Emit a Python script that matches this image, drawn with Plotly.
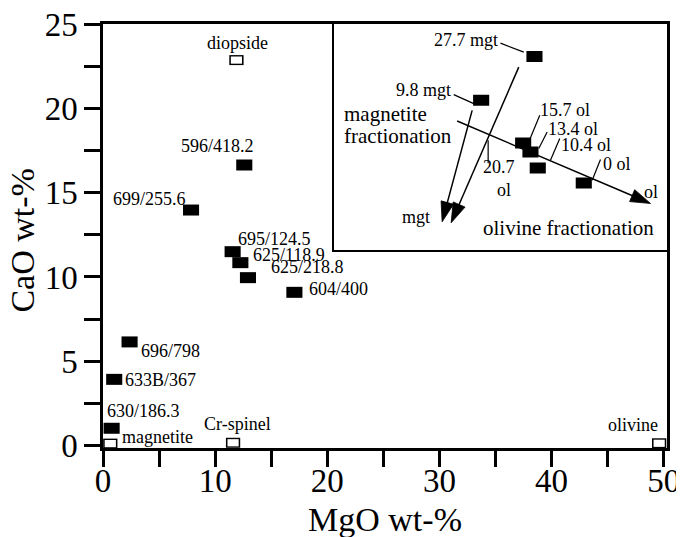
import plotly.graph_objects as go

# ---------------- data (main diagram) ----------------
sample_labels = ["596/418.2", "699/255.6", "695/124.5", "625/118.9", "625/218.8",
                 "604/400", "696/798", "633B/367", "630/186.3"]
sample_mgo = [12.6, 7.85, 11.56, 12.25, 12.93, 17.07, 2.37, 1.0, 0.77]
sample_cao = [16.64, 13.97, 11.5, 10.85, 9.96, 9.09, 6.15, 3.93, 1.03]

mineral_labels = ["diopside", "magnetite", "Cr-spinel", "olivine"]
mineral_mgo = [11.9, 0.65, 11.6, 49.6]
mineral_cao = [22.86, 0.12, 0.17, 0.14]

x_tick_vals = [0, 5, 10, 15, 20, 25, 30, 35, 40, 45, 50]
x_label_vals = [0, 10, 20, 30, 40, 50]
x_label_text = ["0", "10", "20", "30", "40", "50"]
y_tick_vals = [0, 2.5, 5, 7.5, 10, 12.5, 15, 17.5, 20, 22.5, 25]
y_tick_text = ["0", "", "5", "", "10", "", "15", "", "20", "", "25"]

# ---------------- data (inset schematic, inset units) ----------------
inset_labels = ["27.7 mgt", "9.8 mgt", "15.7 ol", "13.4 ol", "10.4 ol", "0 ol"]
inset_u = [200, 146.7, 188.7, 196, 203.3, 249.3]
inset_v = [194, 150, 107.3, 98.3, 82.3, 67.3]

leader_u = [166, 189.3, None, 119.3, 139.3, None, 205.3, 195.3, None,
            212.7, 204.3, None, 225.3, 216, None, 266, 257.7, None, 153.7, 153.7]
leader_v = [207.3, 198.3, None, 155.7, 146.7, None, 135, 110.7, None,
            118.3, 101.7, None, 111.7, 90, None, 90.7, 70, None, 110, 87]

arrow_mgt1_u = [137.7, 107.7]
arrow_mgt1_v = [140, 28.3]
arrow_mgt2_u = [184.3, 116.7]
arrow_mgt2_v = [183.3, 27.3]
arrow_ol_u = [122.7, 316]
arrow_ol_v = [129.3, 46.7]

FONT = "Liberation Serif"
BLACK = "#000000"

fig = go.Figure()

# filled sample rectangles (main)
fig.add_trace(go.Scatter(
    x=sample_mgo, y=sample_cao, mode="markers", xaxis="x", yaxis="y",
    marker=dict(symbol="line-ew", size=11.5, color=BLACK, opacity=1,
                line=dict(color=BLACK, width=11)),
    hoverinfo="skip", showlegend=False))

# open mineral rectangles (outer black + inner white)
fig.add_trace(go.Scatter(
    x=mineral_mgo, y=mineral_cao, mode="markers",
    marker=dict(symbol="line-ew", size=10.2, color=BLACK, opacity=1,
                line=dict(color=BLACK, width=10)),
    hoverinfo="skip", showlegend=False))
fig.add_trace(go.Scatter(
    x=mineral_mgo, y=mineral_cao, mode="markers",
    marker=dict(symbol="line-ew", size=8.0, color="white", opacity=1,
                line=dict(color="white", width=7.2)),
    hoverinfo="skip", showlegend=False))

# empty trace so the label axis (x3) is registered
fig.add_trace(go.Scatter(x=[], y=[], xaxis="x3", yaxis="y", mode="markers",
                         hoverinfo="skip", showlegend=False))

# inset: leader lines
fig.add_trace(go.Scatter(
    x=leader_u, y=leader_v, mode="lines", xaxis="x2", yaxis="y2",
    line=dict(color=BLACK, width=1.2), hoverinfo="skip", showlegend=False,
    connectgaps=False))

# inset: arrows
for au, av in [(arrow_mgt1_u, arrow_mgt1_v), (arrow_mgt2_u, arrow_mgt2_v),
               (arrow_ol_u, arrow_ol_v)]:
    fig.add_trace(go.Scatter(
        x=au, y=av, mode="lines+markers", xaxis="x2", yaxis="y2",
        line=dict(color=BLACK, width=1.5),
        marker=dict(symbol=["circle", "arrow"], size=[0, 21], color=BLACK,
                    opacity=1, angleref="previous",
                    line=dict(width=0.8, color=BLACK)),
        hoverinfo="skip", showlegend=False))

# inset: filled rectangles
fig.add_trace(go.Scatter(
    x=inset_u, y=inset_v, mode="markers", xaxis="x2", yaxis="y2",
    marker=dict(symbol="line-ew", size=11.5, color=BLACK, opacity=1,
                line=dict(color=BLACK, width=11)),
    hoverinfo="skip", showlegend=False))

annotations = []

# main point labels: (xshift, yshift, xanchor)
sample_offsets = [(-27, 19, "center"), (-42, 11, "center"), (42, 13, "center"),
                  (49, 8, "center"), (21, 11, "left"), (13, 3, "left"),
                  (9, -9, "left"), (9, -1, "left"), (-7, 17, "left")]
for lab, xv, yv, (dx, dy, anc) in zip(sample_labels, sample_mgo, sample_cao, sample_offsets):
    annotations.append(dict(x=xv, y=yv, xref="x", yref="y", text=lab, showarrow=False,
                            xshift=dx, yshift=dy, xanchor=anc, yanchor="middle",
                            font=dict(family=FONT, size=18, color=BLACK)))

mineral_offsets = [(1, 17, "center"), (10, 7, "left"), (4, 19, "center"), (-26, 18, "center")]
for lab, xv, yv, (dx, dy, anc) in zip(mineral_labels, mineral_mgo, mineral_cao, mineral_offsets):
    annotations.append(dict(x=xv, y=yv, xref="x", yref="y", text=lab, showarrow=False,
                            xshift=dx, yshift=dy, xanchor=anc, yanchor="middle",
                            font=dict(family=FONT, size=18, color=BLACK)))

# inset texts
inset_texts = [
    ("27.7 mgt", 166, 210, "right", 18),
    ("9.8 mgt", 118.7, 160, "right", 18),
    ("15.7 ol", 204, 140, "left", 18),
    ("13.4 ol", 211.5, 121.7, "left", 18),
    ("10.4 ol", 224.5, 105, "left", 18),
    ("0 ol", 266.5, 86.7, "left", 18),
    ("20.7", 146.5, 83.3, "left", 18),
    ("ol", 169.3, 60, "center", 18),
    ("magnetite", 8, 136.7, "left", 21),
    ("fractionation", 8, 114, "left", 21),
    ("mgt", 82, 33.3, "center", 18),
    ("olivine fractionation", 234.3, 21.7, "center", 21),
    ("ol", 316.7, 58.3, "center", 18),
]
for t, u, v, anc, fs in inset_texts:
    annotations.append(dict(x=u, y=v, xref="x2", yref="y2", text=t, showarrow=False,
                            xanchor=anc, yanchor="middle",
                            font=dict(family=FONT, size=fs, color=BLACK)))

# y-axis title
annotations.append(dict(x=-0.143, y=0.49, xref="paper", yref="paper", text="CaO wt-%",
                        showarrow=False, textangle=-90, xanchor="center", yanchor="middle",
                        font=dict(family=FONT, size=34, color=BLACK)))

# The page body has an 8px default margin; the figure is laid out to compensate.
fig.update_layout(
    template="none",
    width=684, height=537,
    margin=dict(l=95, r=25, t=16, b=97, pad=0, autoexpand=False),
    paper_bgcolor="white", plot_bgcolor="white",
    showlegend=False, hovermode=False,
    font=dict(family=FONT, color=BLACK),
    xaxis=dict(range=[0, 50.3], tickvals=x_tick_vals, showticklabels=False,
               automargin=False,
               ticks="outside", ticklen=16, tickwidth=2.5, tickcolor=BLACK,
               showline=True, linewidth=2.5, linecolor=BLACK, mirror=True,
               showgrid=False, zeroline=False),
    xaxis3=dict(range=[0, 50.3], overlaying="x", anchor="y", side="bottom",
                tickvals=x_label_vals, ticktext=x_label_text,
                automargin=False, ticks="", ticklabelstandoff=10,
                ticklabeloverflow="allow",
                showline=False, showgrid=False, zeroline=False,
                tickfont=dict(family=FONT, size=33, color=BLACK),
                title=dict(text="MgO wt-%", font=dict(family=FONT, size=34, color=BLACK),
                           standoff=9)),
    yaxis=dict(range=[-0.14, 25.0], tickvals=y_tick_vals, ticktext=y_tick_text,
               automargin=False, ticklabeloverflow="allow",
               ticks="outside", ticklen=16, tickwidth=2.5, tickcolor=BLACK,
               showline=True, linewidth=2.5, linecolor=BLACK, mirror=True,
               showgrid=False, zeroline=False,
               tickfont=dict(family=FONT, size=33, color=BLACK)),
    xaxis2=dict(domain=[0.4103, 1.0], anchor="y2", range=[0, 332.5], automargin=False,
                showticklabels=False, ticks="", showgrid=False, zeroline=False,
                showline=True, linewidth=1.5, linecolor=BLACK, mirror=True),
    yaxis2=dict(domain=[0.4668, 1.0], anchor="x2", range=[0, 226.5], automargin=False,
                showticklabels=False, ticks="", showgrid=False, zeroline=False,
                showline=True, linewidth=1.5, linecolor=BLACK, mirror=True),
    annotations=annotations,
)

fig.write_html("out.html")
